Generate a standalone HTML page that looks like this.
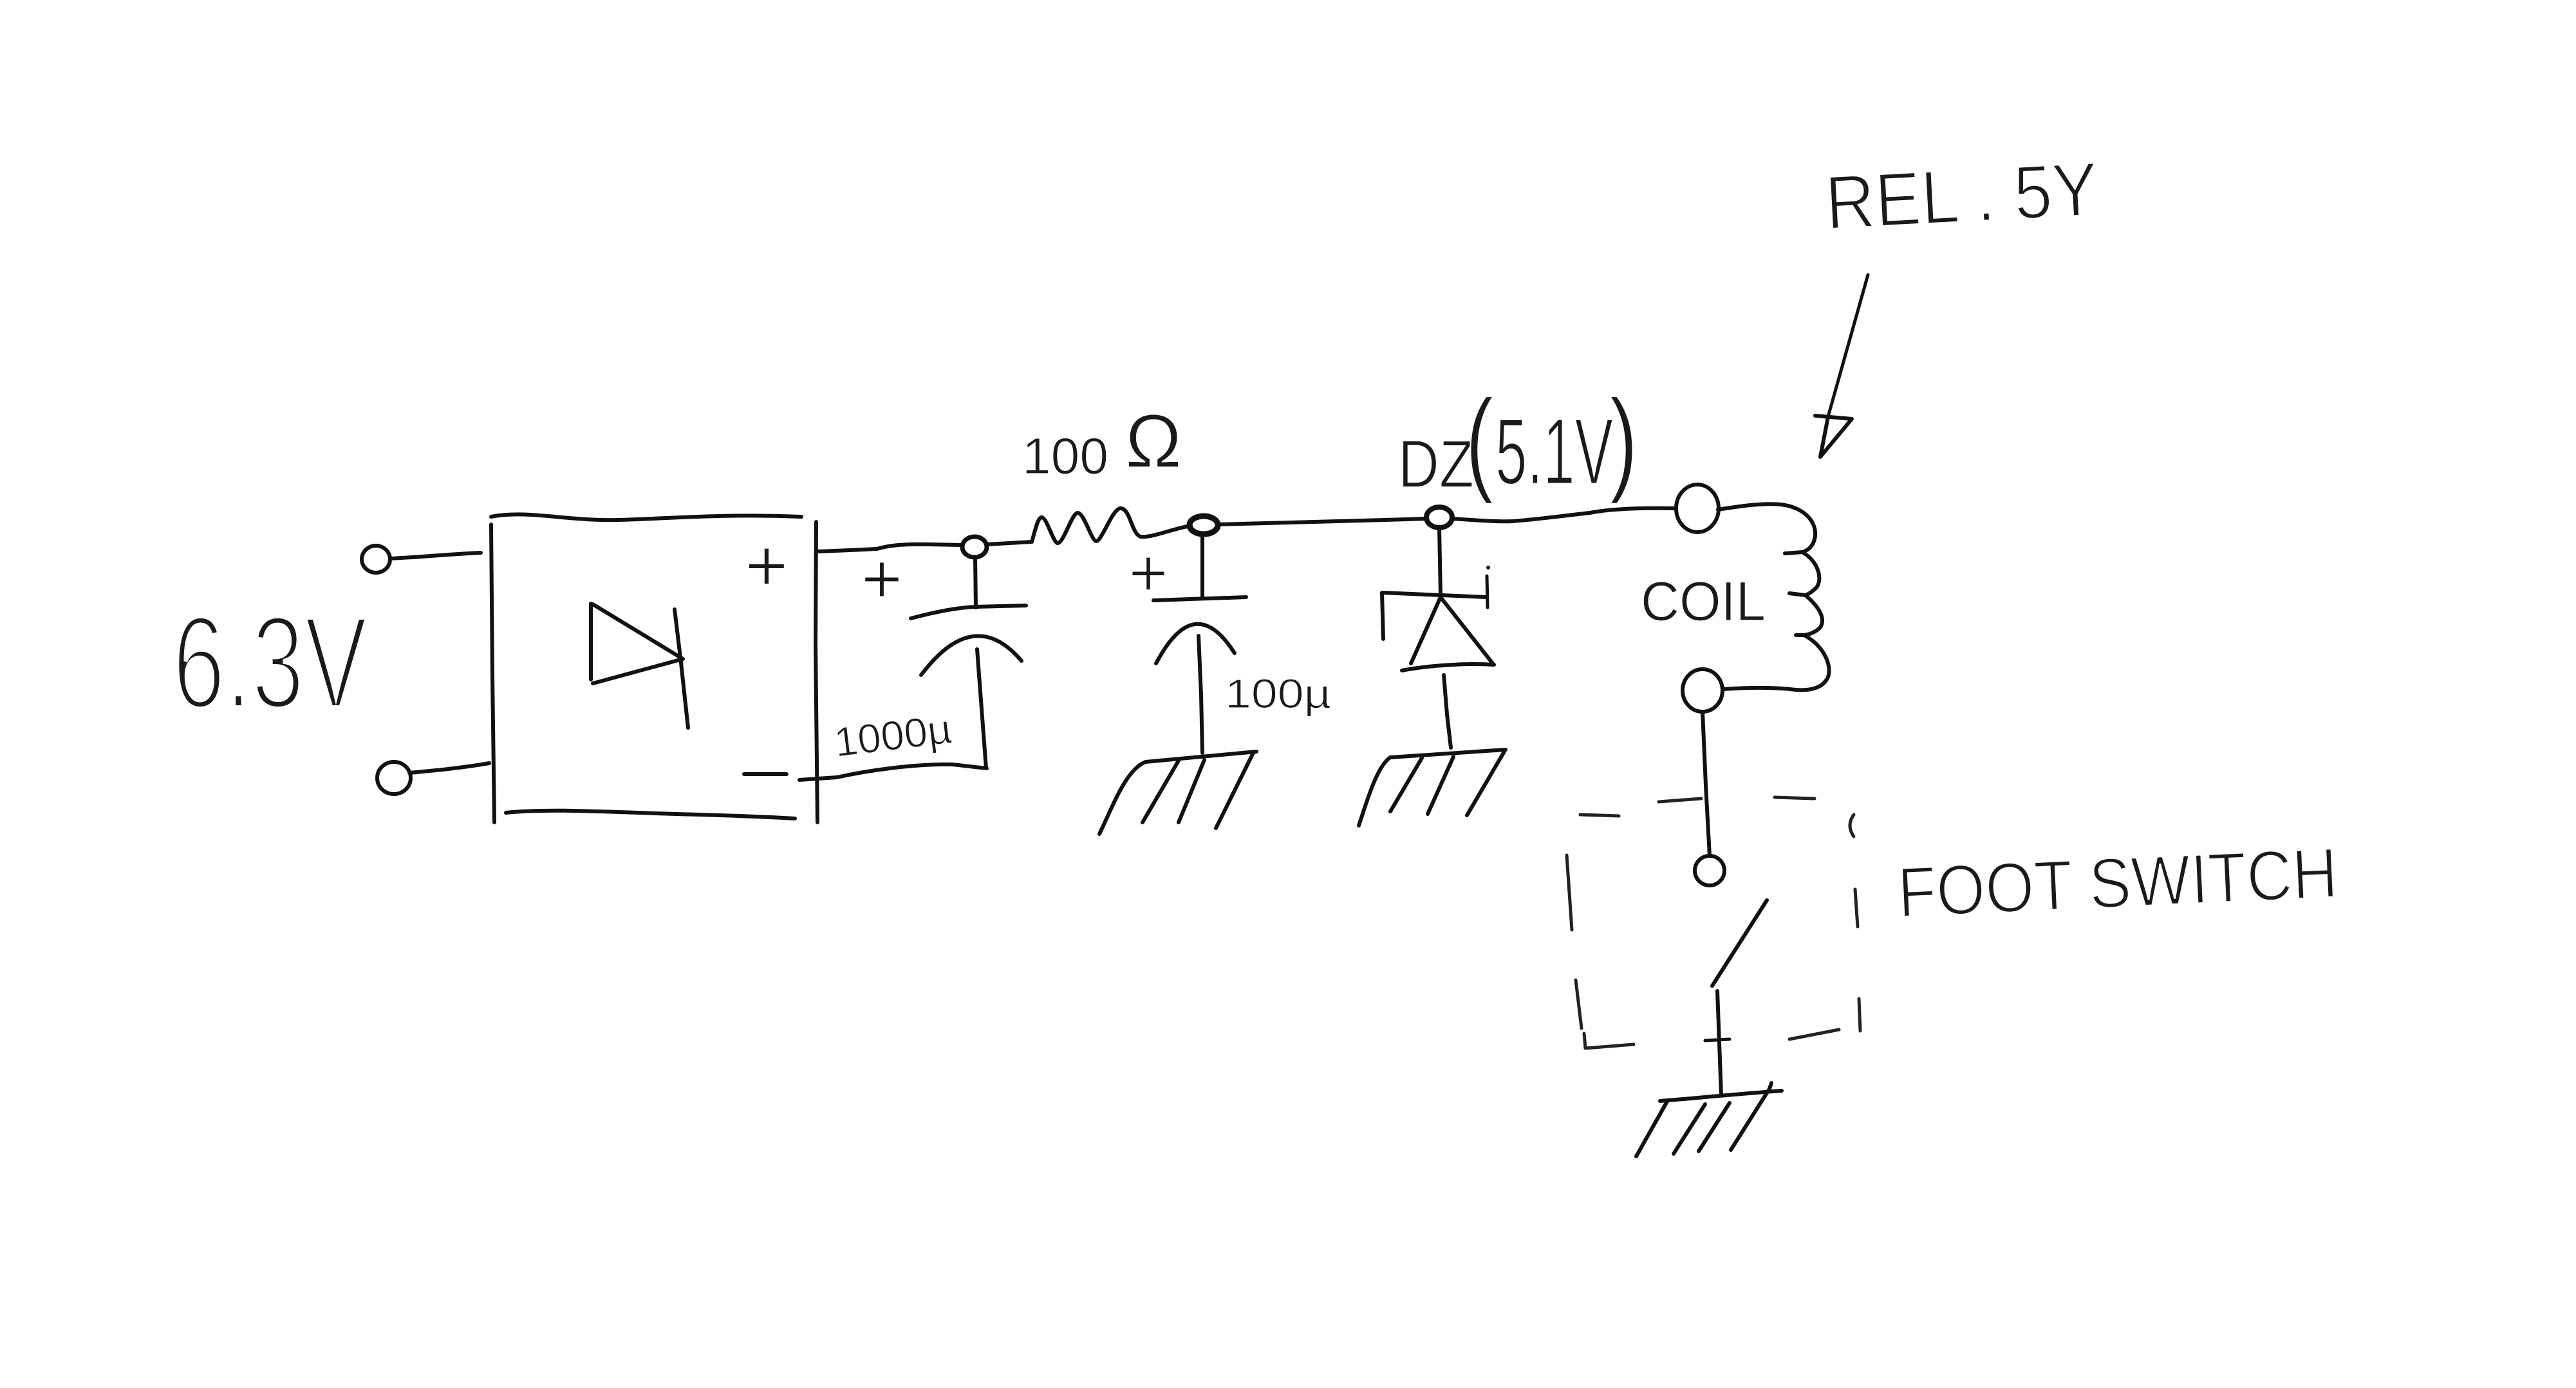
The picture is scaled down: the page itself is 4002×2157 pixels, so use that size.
<!DOCTYPE html>
<html>
<head>
<meta charset="utf-8">
<style>
html,body{margin:0;padding:0;background:#fff;}
svg{display:block;}
.w{fill:none;stroke:#111;stroke-width:6;stroke-linecap:round;stroke-linejoin:round;}
.t{stroke-width:5;}
.d{stroke-width:5;stroke:#222;}
text{font-family:"Liberation Sans","DejaVu Sans",sans-serif;fill:#1a1a1a;stroke:#fff;paint-order:normal;}
.xl{stroke-width:8;}
.lg{stroke-width:3;}
.md{stroke-width:2;}
.sm{stroke-width:1.2;}
</style>
</head>
<body>
<svg width="4002" height="2157" viewBox="0 0 4002 2157" xmlns="http://www.w3.org/2000/svg">
<rect x="0" y="0" width="4002" height="2157" fill="#fff" stroke="none"/>

<!-- 6.3V label -->
<text class="xl" x="268" y="1100" font-size="205" textLength="303" lengthAdjust="spacingAndGlyphs">6.3V</text>

<!-- input terminals -->
<ellipse class="w" cx="584" cy="869" rx="22" ry="21"/>
<path class="w" d="M606,868 C650,866 700,861 747,859"/>
<ellipse class="w" cx="612" cy="1209" rx="26" ry="25"/>
<path class="w" d="M636,1201 C680,1197 720,1193 760,1186"/>

<!-- rectifier box -->
<path class="w" d="M763,803 C820,792 880,810 960,808 C1040,806 1120,798 1245,803"/>
<path class="w" d="M763,815 L765,1050 L768,1278"/>
<path class="w" d="M786,1263 C850,1256 950,1262 1050,1265 C1130,1267 1200,1270 1235,1272"/>
<path class="w" d="M1268,811 L1267,1000 L1270,1278"/>
<!-- diode inside box -->
<path class="w" d="M918,938 L918,1056"/>
<path class="w" d="M921,939 L1061,1024 L921,1062"/>
<path class="w" d="M1048,947 L1058,1030 L1069,1131"/>
<text class="md" x="1191" y="918" font-size="115" text-anchor="middle">+</text>
<path class="w" d="M1156,1203 L1222,1203"/>

<!-- top wire from box to node 1 -->
<path class="w" d="M1268,857 C1300,856 1340,854 1362,853 C1380,848 1400,845 1442,846 L1494,847"/>
<!-- bottom wire -->
<path class="w" d="M1242,1212 L1300,1208 C1350,1197 1420,1187 1480,1188 L1533,1194"/>

<!-- node 1 -->
<ellipse class="w" cx="1514" cy="850" rx="19" ry="16" style="stroke-width:7"/>
<!-- cap 1 -->
<path class="w" d="M1515,866 L1516,944"/>
<path class="w" d="M1415,961 C1460,949 1490,944 1515,943 L1594,941"/>
<path class="w" d="M1431,1049 Q1513,940 1587,1027"/>
<path class="w" d="M1518,1009 L1522,1062 L1532,1194"/>
<text class="md" x="1370" y="937" font-size="110" text-anchor="middle">+</text>
<text class="sm" x="1299" y="1176" font-size="64" textLength="183" lengthAdjust="spacingAndGlyphs" transform="rotate(-7 1299 1176)">1000µ</text>

<!-- resistor -->
<path class="w" d="M1533,846 L1603,842 C1608,825 1612,805 1618,804 C1626,803 1636,843 1643,844 C1652,845 1665,798 1674,797 C1684,796 1696,841 1703,841 C1712,841 1728,790 1741,790 C1756,790 1758,830 1772,834 C1790,836 1820,822 1850,817"/>
<text class="sm" x="1588" y="736" font-size="80" textLength="134" lengthAdjust="spacingAndGlyphs">100</text>
<text class="md" x="1748" y="726" font-size="118" font-family="Liberation Sans, sans-serif">Ω</text>

<!-- node 2 -->
<ellipse class="w" cx="1870" cy="816" rx="22" ry="14" style="stroke-width:9"/>
<!-- cap 2 -->
<path class="w" d="M1868,830 L1868,929"/>
<path class="w" d="M1792,933 L1936,928"/>
<path class="w" d="M1796,1031 Q1856,917 1918,1015"/>
<path class="w" d="M1862,988 L1866,1080 L1868,1170"/>
<text class="md" x="1784" y="926" font-size="105" text-anchor="middle">+</text>
<text class="sm" x="1903" y="1100" font-size="64" textLength="165" lengthAdjust="spacingAndGlyphs">100µ</text>
<!-- ground 1 -->
<path class="w" d="M1708,1296 C1730,1250 1750,1195 1780,1184 L1952,1168"/>
<path class="w" d="M1831,1182 L1775,1278"/>
<path class="w" d="M1871,1181 L1831,1278"/>
<path class="w" d="M1947,1170 L1889,1287"/>

<!-- wire node2 -> node3 -->
<path class="w" d="M1892,815 C1980,813 2100,810 2216,806"/>
<!-- node 3 -->
<ellipse class="w" cx="2236" cy="804" rx="20" ry="16" style="stroke-width:8"/>
<!-- wire to coil -->
<path class="w" d="M2256,806 C2300,809 2330,811 2350,810 C2400,806 2440,800 2470,797 C2500,791 2550,789 2604,790"/>

<!-- zener -->
<path class="w" d="M2236,820 L2238,926"/>
<path class="w" d="M2149,993 L2147,921 L2310,928"/>
<path class="w t" d="M2310,895 L2311,944"/>
<circle cx="2312" cy="882" r="3" fill="#111"/>
<path class="w" d="M2238,928 L2192,1031 M2238,928 L2319,1031 M2178,1042 C2220,1034 2280,1030 2321,1033"/>
<path class="w" d="M2243,1049 L2248,1110 L2254,1162"/>
<!-- ground 2 -->
<path class="w" d="M2111,1283 C2125,1240 2140,1190 2160,1177 L2339,1165"/>
<path class="w" d="M2209,1178 L2160,1261"/>
<path class="w" d="M2258,1176 L2218,1265"/>
<path class="w" d="M2337,1168 L2279,1267"/>

<!-- DZ(5.1V) label -->
<text class="md" x="2172" y="757" font-size="105" textLength="118" lengthAdjust="spacingAndGlyphs">DZ</text>
<text class="lg" x="2276" y="746" font-size="180" transform="translate(2276 0) scale(0.75 1) translate(-2276 0)">(</text>
<text class="lg" x="2323" y="752" font-size="146" textLength="183" lengthAdjust="spacingAndGlyphs">5.1V</text>
<text class="lg" x="2500" y="746" font-size="180" transform="translate(2500 0) scale(0.75 1) translate(-2500 0)">)</text>

<!-- coil terminals -->
<ellipse class="w" cx="2637" cy="790" rx="33" ry="37"/>
<ellipse class="w" cx="2645" cy="1073" rx="31" ry="33"/>
<!-- coil -->
<path class="w" d="M2669,792 C2700,787 2740,781 2767,784 C2800,788 2822,808 2820,833 C2818,848 2810,855 2800,858 M2773,860 L2800,858 C2825,872 2832,900 2822,913 C2815,920 2810,923 2805,925 M2780,922 L2805,925 C2828,945 2836,962 2828,975 C2820,983 2810,986 2803,987 M2790,987 L2803,987 C2835,1005 2846,1035 2840,1052 C2833,1068 2815,1074 2790,1072 C2760,1068 2720,1068 2676,1071"/>
<text class="sm" x="2549" y="964" font-size="86" textLength="194" lengthAdjust="spacingAndGlyphs">COIL</text>

<!-- REL 5Y label + arrow -->
<text class="lg" x="2838" y="356" font-size="118" textLength="424" lengthAdjust="spacingAndGlyphs" transform="rotate(-3 2838 356)">REL . 5Y</text>
<path class="w t" d="M2902,427 L2841,644"/>
<path class="w" d="M2820,646 L2877,651 L2828,710 L2840,648"/>

<!-- foot switch -->
<path class="w" d="M2645,1106 L2650,1220 L2656,1330"/>
<ellipse class="w" cx="2656" cy="1353" rx="23" ry="23"/>
<path class="w" d="M2745,1399 L2660,1532"/>
<path class="w" d="M2668,1540 L2671,1620 L2674,1702"/>
<path class="w t" d="M2649,1617 L2687,1615"/>
<!-- ground 3 -->
<path class="w" d="M2579,1711 C2640,1706 2700,1700 2768,1695"/>
<path class="w" d="M2591,1710 L2542,1797"/>
<path class="w" d="M2649,1716 L2600,1793"/>
<path class="w" d="M2687,1714 L2639,1789"/>
<path class="w" d="M2752,1683 L2749,1692 L2689,1787"/>

<!-- dashed enclosure -->
<path class="w d" d="M2455,1266 L2515,1268"/>
<path class="w d" d="M2577,1246 L2643,1241"/>
<path class="w d" d="M2757,1239 L2819,1241"/>
<path class="w d" d="M2434,1329 L2442,1445"/>
<path class="w d" d="M2448,1523 L2457,1598"/>
<path class="w d" d="M2461,1606 L2463,1629 L2538,1623"/>
<path class="w d" d="M2880,1266 Q2868,1283 2880,1300"/>
<path class="w d" d="M2882,1382 L2886,1440"/>
<path class="w d" d="M2888,1552 L2890,1602"/>
<path class="w d" d="M2780,1615 L2857,1600"/>

<text class="lg" x="2950" y="1425" font-size="110" textLength="684" lengthAdjust="spacingAndGlyphs" transform="rotate(-2.6 2950 1425)">FOOT SWITCH</text>
</svg>
</body>
</html>
